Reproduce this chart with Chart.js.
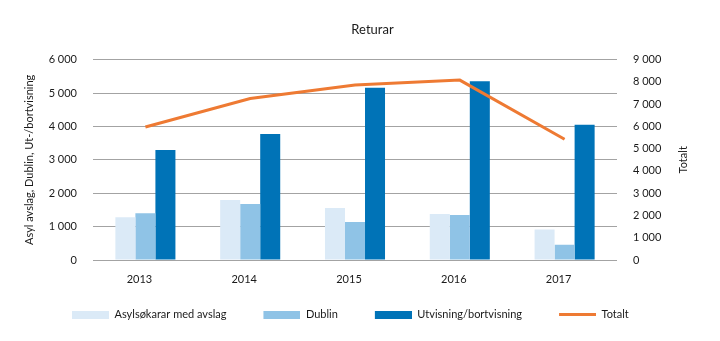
<!DOCTYPE html>
<html>
<head>
<meta charset="utf-8">
<script src="https://cdn.jsdelivr.net/npm/chart.js@4/dist/chart.umd.min.js"></script>
<style>
  body { margin: 0; background: #fff; }
</style>
</head>
<body>
<canvas id="grafico" width="720" height="341"></canvas>
<script>
// dati
const anni = ['2013', '2014', '2015', '2016', '2017'];
const asylAvslag = [1280, 1800, 1560, 1380, 910];
const dublin = [1400, 1680, 1140, 1350, 460];
const utvisning = [3290, 3770, 5160, 5350, 4050];
const totalt = [5970, 7250, 7860, 8080, 5420];

const titolo = 'Returar';
const titoloSinistra = 'Asyl avslag, Dublin, Ut-/bortvisning';
const titoloDestra = 'Totalt';

const FONT = 'Lato';
const TESTO = '#1a1a1a';

// numeri con lo spazio come separatore delle migliaia
function formatta(v) {
  return String(v).replace(/\B(?=(\d{3})+(?!\d))/g, ' ');
}

// simbolo della legenda: margine trasparente a sinistra + rettangolo colorato
const MARGINE = 27;
function simbolo(colore, w, h) {
  const c = document.createElement('canvas');
  c.width = w + MARGINE; c.height = h;
  const cx = c.getContext('2d');
  cx.fillStyle = colore;
  cx.fillRect(MARGINE, 0, w, h);
  return c;
}

// titoli degli assi, scritti dal basso verso l'alto
function scriviVerticale(ctx, testo, x, y) {
  ctx.save();
  ctx.font = '11px ' + FONT;
  ctx.fillStyle = TESTO;
  ctx.textAlign = 'center';
  ctx.textBaseline = 'middle';
  ctx.translate(x, y);
  ctx.rotate(-Math.PI / 2);
  ctx.fillText(testo, 0, 0);
  ctx.restore();
}

const titoliAssi = {
  id: 'titoliAssi',
  afterDraw(chart) {
    const a = chart.chartArea;
    const mid = (a.top + a.bottom) / 2;
    scriviVerticale(chart.ctx, titoloSinistra, a.left - 64, mid);
    scriviVerticale(chart.ctx, titoloDestra, a.right + 66, mid);
  }
};

const colori = ['#dbeaf7', '#8fc3e6', '#0073b7', '#ee7a33'];

const dati = {
  labels: anni,
  datasets: [
    { type: 'bar', label: 'Asylsøkarar med avslag', data: asylAvslag, backgroundColor: colori[0], yAxisID: 'y', order: 2 },
    { type: 'bar', label: 'Dublin', data: dublin, backgroundColor: colori[1], yAxisID: 'y', order: 2 },
    { type: 'bar', label: 'Utvisning/bortvisning', data: utvisning, backgroundColor: colori[2], yAxisID: 'y', order: 2 },
    { type: 'line', label: 'Totalt', data: totalt, borderColor: colori[3], backgroundColor: colori[3],
      borderWidth: 3, pointRadius: 0, tension: 0, yAxisID: 'y2', order: 1 }
  ]
};

Chart.defaults.font.family = FONT;
Chart.defaults.font.size = 11;
Chart.defaults.color = TESTO;

const grafico = new Chart(document.getElementById('grafico'), {
  type: 'bar',
  data: dati,
  options: {
    responsive: false,
    animation: false,
    layout: { padding: { left: 35, right: 10, top: 0, bottom: 11 } },
    datasets: {
      bar: { barPercentage: 1, categoryPercentage: 0.573, borderWidth: 0 }
    },
    plugins: {
      title: {
        display: true,
        text: titolo,
        font: { size: 13, weight: 'normal' },
        color: TESTO,
        padding: { top: 22, bottom: 22 }
      },
      legend: {
        position: 'bottom',
        align: 'start',
        labels: {
          usePointStyle: true,
          pointStyleWidth: 37 + MARGINE,
          boxHeight: 8,
          padding: 10,
          color: TESTO,
          sort: (a, b) => a.datasetIndex - b.datasetIndex,
          generateLabels(chart) {
            const voci = Chart.defaults.plugins.legend.labels.generateLabels(chart);
            voci.forEach(v => {
              const i = v.datasetIndex;
              v.pointStyle = i === 3 ? simbolo(colori[3], 37, 3) : simbolo(colori[i], 37, 8);
            });
            return voci;
          }
        }
      },
      tooltip: { enabled: false }
    },
    scales: {
      x: {
        grid: { display: false, drawTicks: false },
        border: { display: false },
        ticks: { padding: 13, labelOffset: -6 },
        afterFit: s => { s.height = 39; }
      },
      y: {
        position: 'left',
        min: 0,
        max: 6000,
        ticks: { stepSize: 1000, padding: 16, callback: v => formatta(v) },
        grid: { color: '#a3a3a3', drawTicks: false },
        border: { display: false },
        afterFit: s => { s.width = 58; }
      },
      y2: {
        position: 'right',
        min: 0,
        max: 9000,
        ticks: { stepSize: 1000, padding: 16, callback: v => formatta(v) },
        grid: { display: false, drawTicks: false },
        border: { display: false },
        afterFit: s => { s.width = 93; }
      }
    }
  },
  plugins: [titoliAssi]
});
</script>
</body>
</html>
